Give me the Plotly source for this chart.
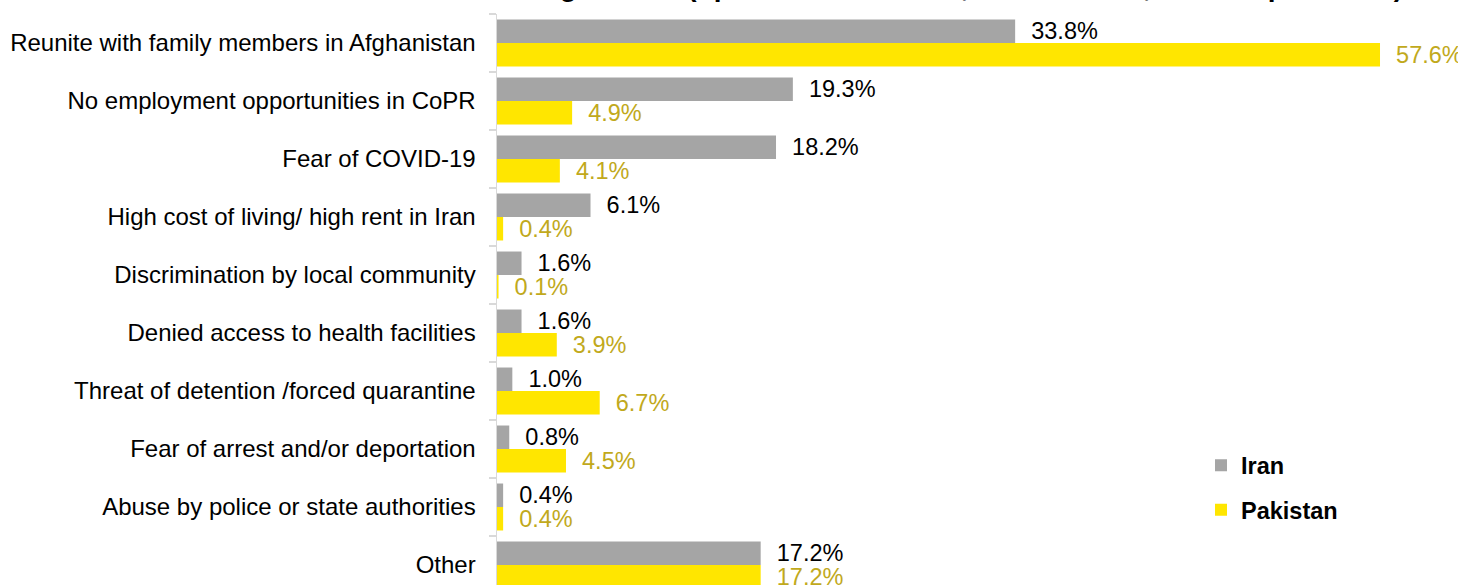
import plotly.graph_objects as go

categories = [
    "Reunite with family members in Afghanistan",
    "No employment opportunities in CoPR",
    "Fear of COVID-19",
    "High cost of living/ high rent in Iran",
    "Discrimination by local community",
    "Denied access to health facilities",
    "Threat of detention /forced quarantine",
    "Fear of arrest and/or deportation",
    "Abuse by police or state authorities",
    "Other",
]
iran = [33.8, 19.3, 18.2, 6.1, 1.6, 1.6, 1.0, 0.8, 0.4, 17.2]
pakistan = [57.6, 4.9, 4.1, 0.4, 0.1, 3.9, 6.7, 4.5, 0.4, 17.2]
title_text = ("Reasons for returning in 2020 (up to three answers, "
              "all returnees, % of respondents)")

FONT = "Liberation Sans, Arial, sans-serif"
FS = 24
FS_VAL = 23.5
GRAY = "#a5a5a5"
YELLOW = "#ffe600"
YTEXT = "#c1a91c"
AXIS = "#d9d9d9"

fig = go.Figure()
fig.add_trace(go.Bar(
    name="Iran", y=categories, x=iran, orientation="h",
    marker=dict(color=GRAY, line=dict(width=0)),
    texttemplate="\u00a0\u00a0%{x:.1f}%", textposition="outside",
    textfont=dict(family=FONT, size=FS_VAL, color="#000000"),
    cliponaxis=False, constraintext="none",
    legendgroup="a", hoverinfo="skip",
))
fig.add_trace(go.Bar(
    name="Pakistan", y=categories, x=pakistan, orientation="h",
    marker=dict(color=YELLOW, line=dict(width=0)),
    texttemplate="\u00a0\u00a0%{x:.1f}%", textposition="outside",
    textfont=dict(family=FONT, size=FS_VAL, color=YTEXT),
    cliponaxis=False, constraintext="none",
    legendgroup="b", hoverinfo="skip",
))

W, H = 1458, 585
ML, MT = 497, 14
px_per_unit = 15.33
plot_w = W - ML
px_per_cat = 58.0
plot_h = H - MT
ybottom = -0.5 + plot_h / px_per_cat

fig.update_layout(
    width=W, height=H,
    margin=dict(l=ML, r=0, t=MT, b=0, autoexpand=False),
    paper_bgcolor="white", plot_bgcolor="white",
    barmode="group", bargap=0.19, bargroupgap=0,
    font=dict(family=FONT, size=FS, color="#000000"),
    title=dict(
        text="<b>" + title_text + "</b>",
        font=dict(family=FONT, size=28, color="#000000"),
        xref="container", yref="container",
        x=1403 / W, xanchor="right",
        y=1, yanchor="bottom", pad=dict(b=4),
    ),
    xaxis=dict(
        range=[0, plot_w / px_per_unit], visible=False, fixedrange=True,
    ),
    yaxis=dict(
        type="category", categoryorder="array", categoryarray=categories,
        range=[ybottom, -0.5],
        showline=True, linecolor=AXIS, linewidth=1.5,
        ticks="outside", tickson="boundaries", ticklen=7, tickwidth=1.5, tickcolor=AXIS,
        showgrid=False, zeroline=False,
        ticklabelstandoff=15,
        tickfont=dict(family=FONT, size=FS, color="#000000"),
        automargin=False, fixedrange=True,
    ),
    yaxis2=dict(
        overlaying="y", anchor="x", side="left",
        range=[ybottom, -0.5],
        tickvals=[i - 0.5 for i in range(len(categories))],
        ticks="inside", ticklen=7, tickwidth=1.5, tickcolor=AXIS,
        showticklabels=False, showgrid=False, zeroline=False, showline=False,
        fixedrange=True,
    ),
    legend=dict(
        x=1201 / W, xref="container", xanchor="left",
        y=1 - 488 / H, yref="container", yanchor="middle",
        font=dict(family=FONT, size=FS_VAL, color="#000000", weight="bold"),
        tracegroupgap=11, bgcolor="rgba(0,0,0,0)",
        itemclick=False, itemdoubleclick=False,
    ),
    showlegend=True,
)

fig.write_html(
    "out.html",
    config={"displayModeBar": False, "staticPlot": True},
    post_script="document.body.style.margin='0';document.body.style.overflow='hidden';",
)
